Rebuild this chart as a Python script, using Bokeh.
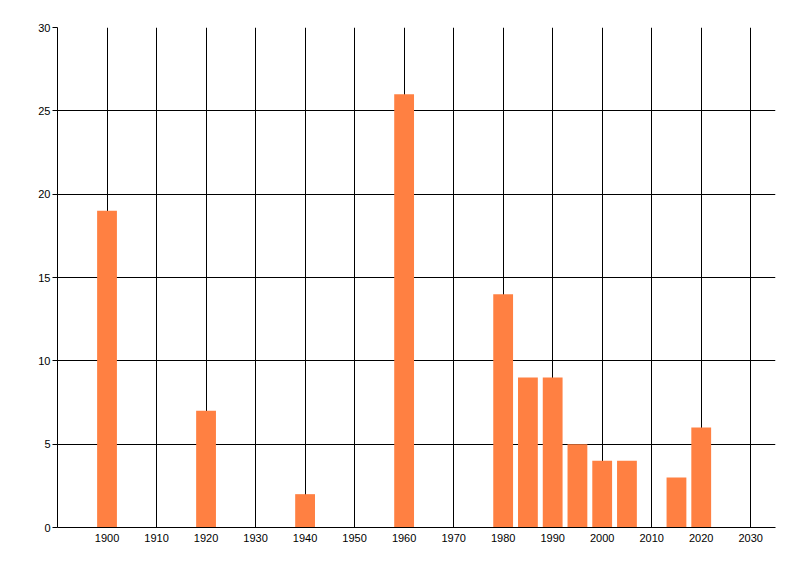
from bokeh.plotting import figure
from bokeh.models import Range1d, FixedTicker
from bokeh.embed import file_html
from bokeh.resources import INLINE

# data
years = [1900, 1920, 1940, 1960, 1980, 1985, 1990, 1995, 2000, 2005, 2015, 2020]
counts = [19, 7, 2, 26, 14, 9, 9, 5, 4, 4, 3, 6]
x_ticks = [1900, 1910, 1920, 1930, 1940, 1950, 1960, 1970, 1980, 1990, 2000, 2010, 2020, 2030]
y_ticks = [0, 5, 10, 15, 20, 25, 30]

p = figure(width=784, height=560, output_backend="svg", toolbar_location=None,
           x_range=Range1d(1890, 2035), y_range=Range1d(0, 30),
           min_border_left=57, min_border_right=9, min_border_top=27, min_border_bottom=33)
p.background_fill_color = "white"
p.border_fill_color = "white"
p.outline_line_color = None

#bars on top of grid
p.vbar(x=years, top=counts, width=4, bottom=0, fill_color="#FF8042", line_color=None)

#grid
p.xgrid.ticker = FixedTicker(ticks=x_ticks)
p.ygrid.ticker = FixedTicker(ticks=y_ticks)
p.grid.grid_line_color = "black"
p.grid.grid_line_width = 1
p.grid.grid_line_alpha = 1

#axes
p.xaxis.ticker = FixedTicker(ticks=x_ticks)
p.yaxis.ticker = FixedTicker(ticks=y_ticks)
p.axis.axis_line_color = "black"
p.axis.axis_line_width = 1
p.axis.minor_tick_line_color = None
p.axis.major_label_text_font = "Liberation Sans"
p.axis.major_label_text_font_size = "11px"
p.axis.major_label_text_color = "black"
p.xaxis.major_tick_out = 0
p.xaxis.major_tick_in = 0
p.xaxis.major_label_standoff = 6
p.yaxis.major_tick_out = 5
p.yaxis.major_tick_in = 0
p.yaxis.major_tick_line_color = "black"
p.yaxis.major_label_standoff = 2

open("out.html", "w").write(file_html(p, INLINE))
